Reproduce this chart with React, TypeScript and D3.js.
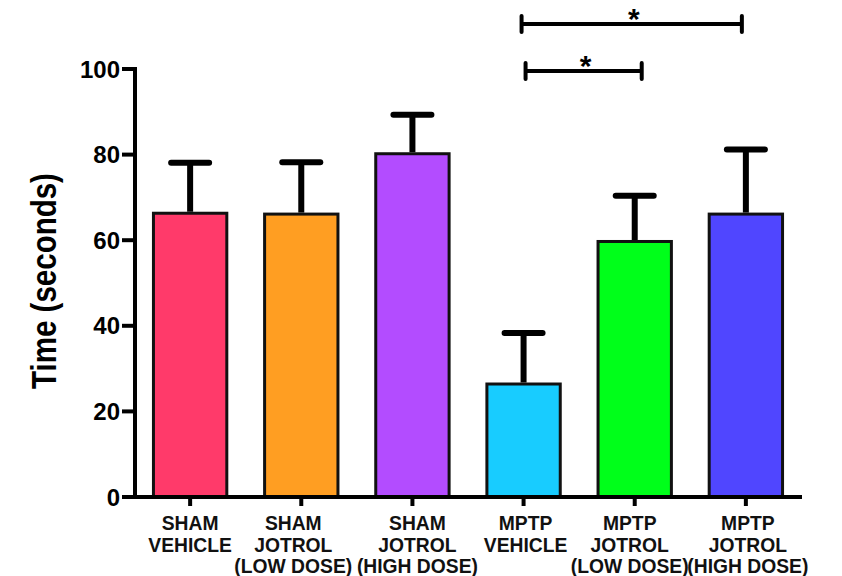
import React from 'react';
import * as d3 from 'd3';

// data
const categories = ['sham-vehicle', 'sham-low', 'sham-high', 'mptp-vehicle', 'mptp-low', 'mptp-high'];
const labelLines = [
  ['SHAM', 'VEHICLE'],
  ['SHAM', 'JOTROL', '(LOW DOSE)'],
  ['SHAM', 'JOTROL', '(HIGH DOSE)'],
  ['MPTP', 'VEHICLE'],
  ['MPTP', 'JOTROL', '(LOW DOSE)'],
  ['MPTP', 'JOTROL', '(HIGH DOSE)'],
];
const means = [66.3, 66.1, 80.2, 26.4, 59.7, 66.1];
const errorTops = [78.1, 78.2, 89.3, 38.3, 70.4, 81.2];
const colors = ['#ff3a6a', '#ff9e22', '#b34cff', '#18ccff', '#00ff1a', '#5046ff'];
const yTicks = [0, 20, 40, 60, 80, 100];
const comparisons = [
  { from: 'mptp-vehicle', to: 'mptp-high', label: '*' },
  { from: 'mptp-vehicle', to: 'mptp-low', label: '*' },
];

const W = 842;
const H = 576;
const FONT = 'Arial, "Liberation Sans", Helvetica, sans-serif';

export default function App() {
  const x = d3.scaleBand().domain(categories).range([134, 802]).paddingInner(0.34).paddingOuter(0.175);
  const y = d3.scaleLinear().domain([0, 100]).range([497, 69]);
  const cx = (c) => (x(c) as number) + x.bandwidth() / 2;

  // label nudges so the long lines don't collide (as in the original)
  const labelNudge = [0, -8, 5, 2, -5, 2];
  // significance brackets: y level, and small offsets from the bar centres
  const sigY = [24, 71];
  const sigOff = [
    [-2, -4],
    [2, 7],
  ];

  return (
    <svg width={W} height={H} style={{ position: 'absolute', left: 0, top: 0, background: '#fff' }}>
      {/* bars */}
      {categories.map((c, i) => (
        <rect
          key={c}
          x={x(c)}
          y={y(means[i])}
          width={x.bandwidth()}
          height={y(0) - y(means[i])}
          fill={colors[i]}
          stroke="#111"
          strokeWidth={3}
        />
      ))}
      {/* error bars (upper only) */}
      {categories.map((c, i) => (
        <g key={c} stroke="#000" strokeWidth={6} strokeLinecap="round">
          <line x1={cx(c)} x2={cx(c)} y1={y(means[i]) - 1.5} y2={y(errorTops[i])} strokeLinecap="butt" />
          <line x1={cx(c) - 19} x2={cx(c) + 19} y1={y(errorTops[i])} y2={y(errorTops[i])} />
        </g>
      ))}
      {/* y axis */}
      <g>
        <line x1={135} x2={135} y1={y(100) - 2} y2={y(0) + 2} stroke="#000" strokeWidth={4} />
        {yTicks.map((t) => (
          <g key={t}>
            <line x1={122} x2={135} y1={y(t)} y2={y(t)} stroke="#000" strokeWidth={4} />
            <text
              x={120}
              y={y(t) + 8.5}
              textAnchor="end"
              fontFamily={FONT}
              fontWeight="bold"
              fontSize={24}
              fill="#000"
            >
              {t}
            </text>
          </g>
        ))}
        <text
          transform={`translate(56, 281) rotate(-90) scale(1, 1.2)`}
          textAnchor="middle"
          fontFamily={FONT}
          fontWeight="bold"
          fontSize={29.5}
          fill="#000"
        >
          Time (seconds)
        </text>
      </g>
      {/* x axis */}
      <g>
        <line x1={133} x2={802} y1={y(0)} y2={y(0)} stroke="#000" strokeWidth={4} />
        {categories.map((c, i) => (
          <g key={c}>
            <line x1={cx(c)} x2={cx(c)} y1={y(0)} y2={y(0) + 9} stroke="#000" strokeWidth={4} />
            <text textAnchor="middle" fontFamily={FONT} fontWeight="bold" fontSize={19.3} fill="#111">
              {labelLines[i].map((l, j) => (
                <tspan key={j} x={cx(c) + labelNudge[i]} y={530 + j * 21.5}>
                  {l}
                </tspan>
              ))}
            </text>
          </g>
        ))}
      </g>
      {/* significance brackets */}
      {comparisons.map((s, k) => {
        const x1 = cx(s.from) + sigOff[k][0];
        const x2 = cx(s.to) + sigOff[k][1];
        const ly = sigY[k];
        return (
          <g key={k} stroke="#000" strokeWidth={4}>
            <line x1={x1} x2={x2} y1={ly} y2={ly} />
            <line x1={x1} x2={x1} y1={ly - 8} y2={ly + 8} strokeLinecap="round" />
            <line x1={x2} x2={x2} y1={ly - 8} y2={ly + 8} strokeLinecap="round" />
            <text
              x={(x1 + x2) / 2 + 2}
              y={ly + 5}
              textAnchor="middle"
              fontFamily={FONT}
              fontWeight="bold"
              fontSize={30}
              stroke="none"
              fill="#000"
            >
              {s.label}
            </text>
          </g>
        );
      })}
    </svg>
  );
}
